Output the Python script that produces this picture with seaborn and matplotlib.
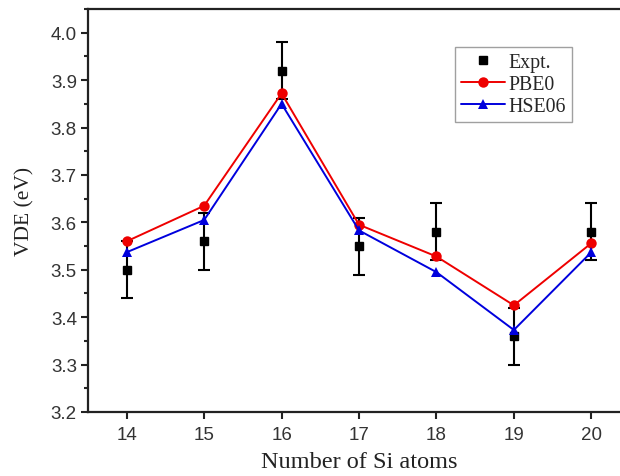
import numpy as np
import pandas as pd
import matplotlib
matplotlib.use("Agg")
import matplotlib.pyplot as plt
from matplotlib.ticker import MultipleLocator, FormatStrFormatter
from matplotlib.lines import Line2D
import seaborn as sns

# Cluster sizes and vertical detachment energies
n_si = [14, 15, 16, 17, 18, 19, 20]
expt = [3.50, 3.56, 3.92, 3.55, 3.58, 3.36, 3.58]
expt_err = [0.06, 0.06, 0.06, 0.06, 0.06, 0.06, 0.06]
pbe0 = [3.560, 3.635, 3.872, 3.595, 3.528, 3.425, 3.556]
hse06 = [3.537, 3.605, 3.850, 3.583, 3.495, 3.373, 3.537]

sns.set_style("ticks")
plt.rcParams["font.family"] = ["Liberation Sans", "DejaVu Sans"]

df = pd.DataFrame({"N": n_si * 2,
                   "VDE": pbe0 + hse06,
                   "Method": ["PBE0"] * len(n_si) + ["HSE06"] * len(n_si)})
colors = {"PBE0": "#ee0000", "HSE06": "#0000dd"}
markers = {"PBE0": "o", "HSE06": "^"}

fig = plt.figure(figsize=(6.2, 4.77), dpi=100)
ax = fig.add_axes([88 / 620, 64 / 477, 542 / 620, 403 / 477])

ax.errorbar(n_si, expt, yerr=expt_err, fmt="s", color="black", ms=6,
            ecolor="black", elinewidth=1.5, capsize=4.5, capthick=1.5,
            zorder=2)
sns.lineplot(data=df, x="N", y="VDE", hue="Method", style="Method",
             palette=colors, markers=markers, dashes=False,
             markersize=7.5, markeredgewidth=0, linewidth=1.4, ax=ax,
             zorder=3, legend=False)

ax.set_xlim(13.5, 20.5)
ax.set_ylim(3.2, 4.05)
ax.set_xticks(n_si)
ax.yaxis.set_major_locator(MultipleLocator(0.1))
ax.yaxis.set_minor_locator(MultipleLocator(0.05))
ax.yaxis.set_major_formatter(FormatStrFormatter("%.1f"))

for s in ax.spines.values():
    s.set_linewidth(1.6)
    s.set_color("#222222")
ax.spines["right"].set_visible(False)
ax.tick_params(axis="both", which="major", direction="out", length=5,
               width=1.5, labelsize=13.5, colors="#222222", labelcolor="#333333")
ax.tick_params(axis="y", which="minor", direction="out", length=3, width=1.5)
ax.tick_params(axis="x", which="major", pad=5)
ax.tick_params(axis="y", which="major", pad=3)

ax.set_xlabel("Number of Si atoms", family="Liberation Serif", fontsize=17.5,
              color="#222222", labelpad=6)
ax.set_ylabel("VDE (eV)", family="Liberation Serif", fontsize=15.5,
              color="#222222", labelpad=12)

handles = [
    Line2D([], [], ls="none", marker="s", color="black", ms=6),
    Line2D([], [], color=colors["PBE0"], marker="o", ms=7.5, mew=0, lw=1.4),
    Line2D([], [], color=colors["HSE06"], marker="^", ms=7.5, mew=0, lw=1.4),
]
leg = ax.legend(handles, ["Expt.", "PBE0", "HSE06"],
                loc="upper left", bbox_to_anchor=(367 / 542, 1 - 38 / 403),
                prop={"family": "Liberation Serif", "size": 14.3},
                frameon=True, fancybox=False, edgecolor="#888888",
                handlelength=2.2, handletextpad=0.2, borderpad=0.3,
                labelspacing=0.15, borderaxespad=0)
leg.get_frame().set_linewidth(1.0)

fig.savefig("out.png", dpi=100)
